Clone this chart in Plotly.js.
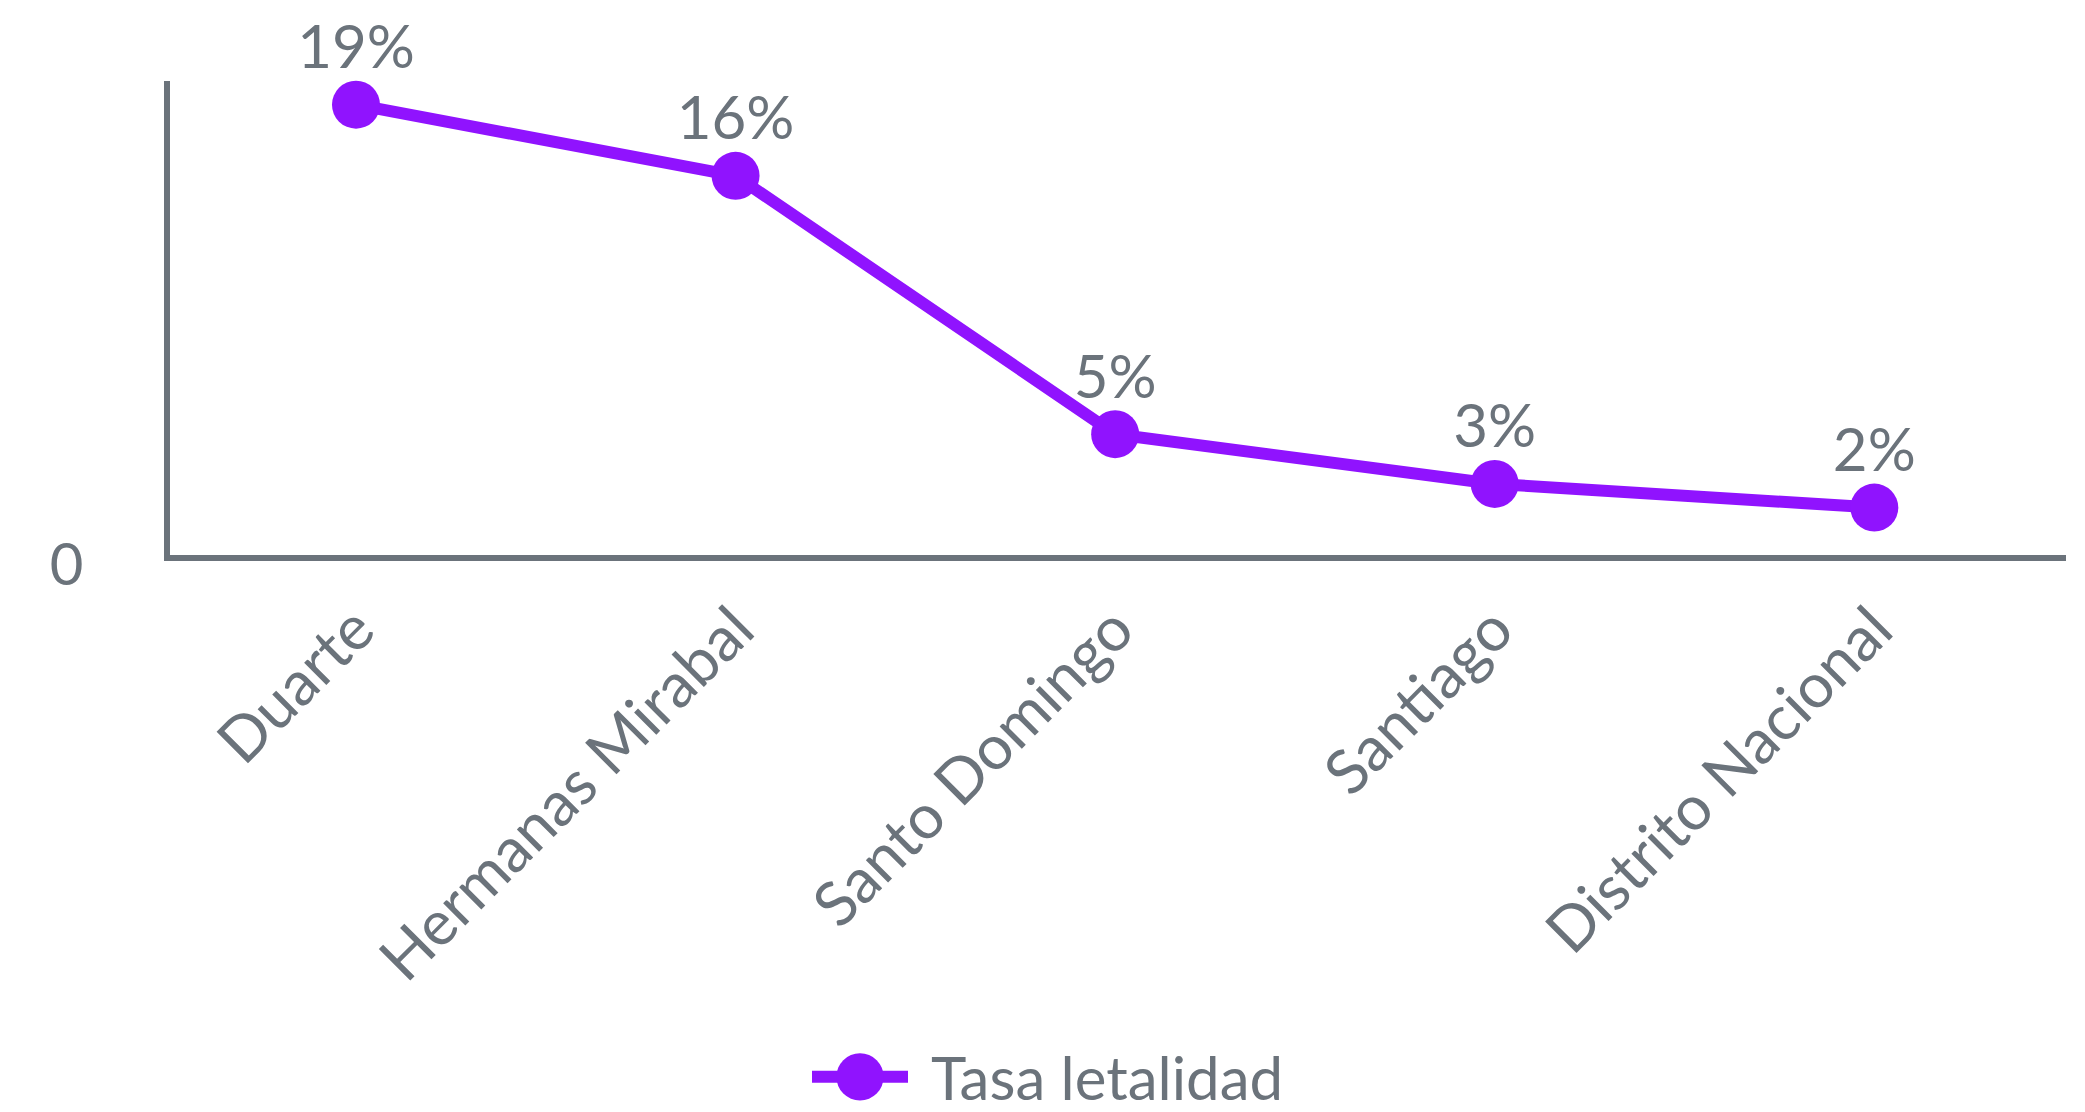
<!DOCTYPE html>
<html>
<head>
<meta charset="utf-8">
<script src="https://cdn.plot.ly/plotly-3.0.1.min.js"></script>
<style>html,body{margin:0;padding:0;background:#fff;}#chart{width:2085px;height:1112px;}</style>
</head>
<body>
<div id="chart"></div>
<script>
const categories = ["Duarte", "Hermanas Mirabal", "Santo Domingo", "Santiago", "Distrito Nacional"];
const tasaLetalidad = [0.19, 0.16, 0.051, 0.030, 0.020];
const seriesName = "Tasa letalidad";

const gray = "#6b737b";
const purple = "#9013fe";

const lineTrace = {
  type: "scatter",
  mode: "lines+markers",
  x: categories,
  y: tasaLetalidad,
  name: seriesName,
  line: {color: purple, width: 12},
  marker: {color: purple, size: 48},
  cliponaxis: false,
  hoverinfo: "skip"
};

// Value labels, placed through the same axes (invisible markers only set the label offset)
const labelTrace = {
  type: "scatter",
  mode: "markers+text",
  x: categories,
  y: tasaLetalidad,
  showlegend: false,
  marker: {color: "rgba(0,0,0,0)", size: 33},
  texttemplate: "%{y:.0%}",
  textposition: "top center",
  textfont: {family: "Lato", size: 60, color: gray},
  cliponaxis: false,
  hoverinfo: "skip"
};

const layout = {
  width: 2085,
  height: 1112,
  margin: {l: 170, r: 19, t: 81, b: 557, autoexpand: false},
  paper_bgcolor: "#ffffff",
  plot_bgcolor: "#ffffff",
  font: {family: "Lato", color: gray, size: 60},
  showlegend: true,
  legend: {
    orientation: "h",
    xref: "container",
    x: 0.5, xanchor: "center",
    y: -1.101, yanchor: "middle",
    font: {family: "Lato", size: 60, color: gray}
  },
  xaxis: {
    type: "category",
    range: [-0.49, 4.505],
    showline: true, linecolor: gray, linewidth: 6,
    showgrid: false, zeroline: false,
    ticks: "", tickangle: -45,
    ticklabelstandoff: 7,
    tickfont: {family: "Lato", size: 62, color: gray}
  },
  yaxis: {
    range: [0, 0.2],
    showline: true, linecolor: gray, linewidth: 6,
    showgrid: false, zeroline: false,
    tickvals: [0], ticktext: ["0"],
    ticks: "",
    ticklabelstandoff: 69,
    ticklabelshift: 10,
    tickfont: {family: "Lato", size: 58, color: gray}
  }
};

Plotly.newPlot("chart", [lineTrace, labelTrace], layout, {displayModeBar: false, staticPlot: true}).then(function (gd) {
  // Enlarge the legend symbol to match the reference style (Plotly clamps legend symbol sizes).
  const legendG = gd.querySelector(".legend");
  if (!legendG) return;
  legendG.querySelectorAll("[clip-path]").forEach(function (el) { el.removeAttribute("clip-path"); });
  const item = legendG.querySelector(".traces");
  if (!item) return;
  const linePath = item.querySelector(".legendlines path");
  const ptPath = item.querySelector(".legendpoints path");
  const txt = item.querySelector("text.legendtext");
  if (linePath) {
    linePath.setAttribute("d", "M-28,0h96");
    linePath.style.strokeWidth = "12px";
  }
  if (ptPath) {
    ptPath.setAttribute("transform", "translate(20,0) scale(2.95)");
  }
  if (txt) {
    txt.setAttribute("x", "91");
  }
  if (linePath) {
    const r = linePath.getBoundingClientRect();
    const tr = legendG.getAttribute("transform") || "";
    const m = tr.match(/translate\(([-\d.]+)[ ,]+([-\d.]+)\)/);
    if (m) {
      const dx = 812 - r.left;
      legendG.setAttribute("transform", "translate(" + (parseFloat(m[1]) + dx) + "," + m[2] + ")");
    }
  }
});
</script>
</body>
</html>
